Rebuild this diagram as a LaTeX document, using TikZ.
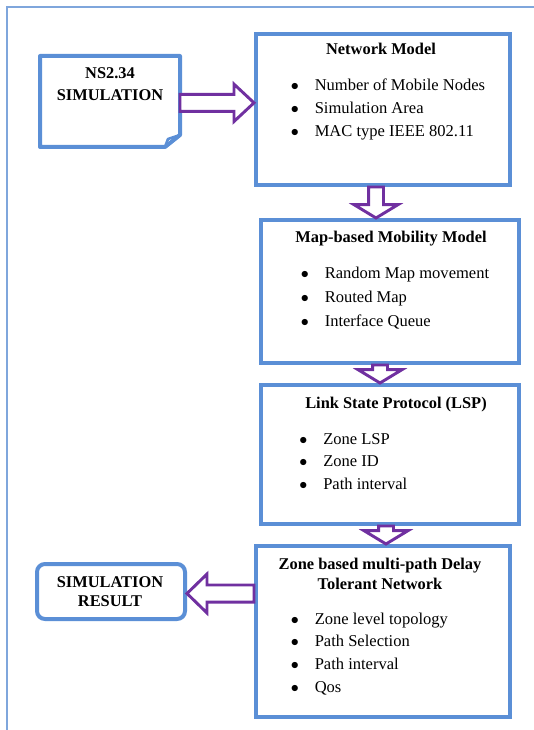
\documentclass[tikz,border=0pt]{standalone}
\usepackage{fontspec}
\setmainfont{Liberation Serif}
\usepackage{tikz}
\usepackage{xcolor}
\usetikzlibrary{positioning, calc}

\definecolor{boxblue}{HTML}{5B8FD6}
\definecolor{frameblue}{HTML}{7FA6DC}
\definecolor{arrowpurple}{HTML}{7030A0}

\newcommand{\itm}{\makebox[18pt][l]{$\bullet$}}
\newcommand{\hollowarrow}[5]{%
  \draw[hollow] let \p1=($(#2)-(#1)$), \n1={veclen(\x1,\y1)}, \n2={atan2(\y1,\x1)} in
    [shift={(#1)}, rotate=\n2] (0pt,#3) -- ({\n1*1pt-#5},#3) -- ({\n1*1pt-#5},#4) -- ({\n1*1pt},0pt)
    -- ({\n1*1pt-#5},-#4) -- ({\n1*1pt-#5},-#3) -- (0pt,-#3) -- cycle;}

\tikzset{
  box/.style={draw=boxblue, line width=3pt, inner sep=0pt},
  hollow/.style={draw=arrowpurple, line width=2.2pt, fill=white, line join=miter},
  title/.style={inner sep=0pt, anchor=base, font=\fontsize{12.3}{15}\selectfont\bfseries},
  items/.style={inner sep=0pt, anchor=base west, font=\fontsize{12.4}{17}\selectfont}
}

\begin{document}
\begin{tikzpicture}[x=0.75pt, y=-0.75pt]
  \useasboundingbox (0,0) rectangle (534,730);
  \draw[frameblue, line width=1.5pt] (7,730) -- (7,7) -- (534,7);

  \node[box, draw=none, minimum width=102pt, minimum height=65.25pt] (ns) at (110,101.5) {};
  \draw[boxblue, line width=3pt, line join=round] (ns.north west) -- (ns.north east) -- ([yshift=9pt]ns.south east)
    -- ([xshift=-11.25pt]ns.south east) -- (ns.south west) -- cycle;
  \draw[boxblue, line width=2pt, line join=round] ([xshift=-11.25pt]ns.south east) -- ([shift={(-9pt,6pt)}]ns.south east)
    -- ([yshift=9pt]ns.south east);
  \node[title] (nstitle) at (110,79) {\begin{tabular}[t]{@{}c@{}}NS2.34\\[1.5pt]SIMULATION\end{tabular}};

  \node[box, minimum width=190.5pt, minimum height=113.25pt] (net) at (383,109.5) {};
  \node[title] (nettitle) at (381,55) {Network Model};
  \node[items] (netlist) at (290.5,91) {\begin{tabular}[t]{@{}l@{}}\itm Number of Mobile Nodes\\ \itm Simulation Area\\ \itm MAC type IEEE 802.11\end{tabular}};

  \node[box, minimum width=193.5pt, minimum height=107.25pt] (map) at (390,291.5) {};
  \node[title] (maptitle) at (391,243) {Map-based Mobility Model};
  \node[items, font=\fontsize{12.4}{17.8}\selectfont] (maplist) at (300.5,279) {\begin{tabular}[t]{@{}l@{}}\itm Random Map movement\\ \itm Routed Map\\ \itm Interface Queue\end{tabular}};

  \node[box, minimum width=193.5pt, minimum height=104.25pt] (lsp) at (390,454.5) {};
  \node[title] (lsptitle) at (396,408) {Link State Protocol (LSP)};
  \node[items] (lsplist) at (299,444) {\begin{tabular}[t]{@{}l@{}}\itm Zone LSP\\ \itm Zone ID\\ \itm Path interval\end{tabular}};

  \node[box, minimum width=190.5pt, minimum height=128.25pt] (zone) at (383,631.5) {};
  \node[title] (zonetitle) at (380,569) {\begin{tabular}[t]{@{}c@{}}Zone based multi-path Delay\\Tolerant Network\end{tabular}};
  \node[items] (zonelist) at (290.5,624) {\begin{tabular}[t]{@{}l@{}}\itm Zone level topology\\ \itm Path Selection\\ \itm Path interval\\ \itm Qos\end{tabular}};

  \node[box, rounded corners=6pt, minimum width=111pt, minimum height=41.25pt] (res) at (111,591.5) {};
  \node[title] (restitle) at (110,587) {\begin{tabular}[t]{@{}c@{}}SIMULATION\\[-0.75pt]RESULT\end{tabular}};

  \coordinate (a0) at ([yshift=-1pt]ns.east);
  \coordinate (a0e) at (a0 -| net.west);
  \coordinate (a1) at ([xshift=-5.25pt]net.south);
  \coordinate (a1e) at (a1 |- map.north);
  \coordinate (a2) at ([xshift=-7.5pt]map.south);
  \coordinate (a2e) at (a2 |- lsp.north);
  \coordinate (a3) at ([xshift=-3pt]lsp.south);
  \coordinate (a3e) at (a3 |- zone.north);
  \coordinate (a4) at ([yshift=-1.5pt]zone.west |- res.east);
  \coordinate (a4e) at (a4 -| res.east);

  \hollowarrow{a0}{a0e}{6.4pt}{14pt}{15pt}
  \hollowarrow{a1}{a1e}{5.6pt}{16.5pt}{10pt}
  \hollowarrow{a2}{a2e}{5.6pt}{16.5pt}{10pt}
  \hollowarrow{a3}{a3e}{5.6pt}{16.5pt}{10pt}
  \hollowarrow{a4}{a4e}{6.4pt}{14.6pt}{15pt}
\end{tikzpicture}
\end{document}
